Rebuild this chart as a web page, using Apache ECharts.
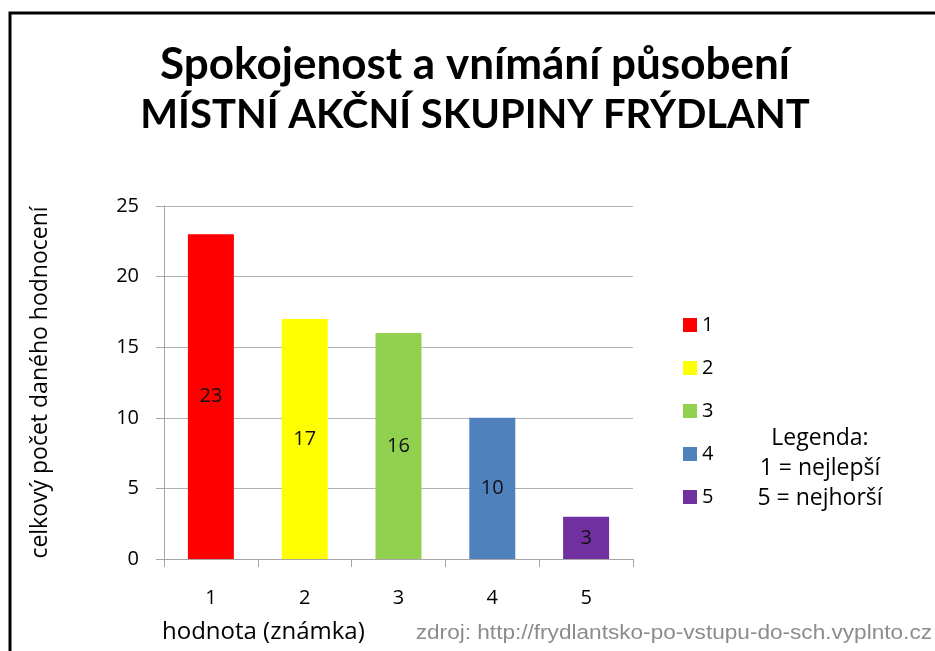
<!DOCTYPE html>
<html>
<head>
<meta charset="utf-8">
<script src="https://cdn.jsdelivr.net/npm/echarts@6/dist/echarts.min.js"></script>
<style>
  html, body { margin: 0; padding: 0; background: #fff; }
  #main { width: 935px; height: 651px; }
</style>
</head>
<body>
<div id="main"></div>
<script>
// data
var categories = ["1", "2", "3", "4", "5"];
var counts = [23, 17, 16, 10, 3];
var seriesNames = ["1", "2", "3", "4", "5"];
var barColors = ["#FF0000", "#FFFF00", "#92D050", "#4F81BD", "#7030A0"];
var yTicks = { min: 0, max: 25, interval: 5 };

var font = "'Open Sans', Lato, sans-serif";
var titleFont = "Lato, 'Open Sans', sans-serif";

var chartDom = document.getElementById("main");
var myChart = echarts.init(chartDom, null, { renderer: "canvas" });

// one series per grade so the legend shows each colour
var series = seriesNames.map(function (name, i) {
  var data = categories.map(function (c, j) {
    return j === i ? counts[j] : "-";
  });
  return {
    name: name,
    type: "bar",
    stack: "all",
    barWidth: 46,
    data: data,
    itemStyle: { color: barColors[i] },
    label: {
      show: true,
      position: "inside",
      color: "#111",
      fontFamily: font,
      fontSize: 20,
    },
  };
});

var option = {
  animation: false,
  backgroundColor: "#fff",
  title: {
    text: "{a|Spokojenost a vnímání působení}\n{b|MÍSTNÍ AKČNÍ SKUPINY FRÝDLANT}",
    left: 470,
    textAlign: "center",
    top: 35,
    textStyle: {
      rich: {
        a: {
          fontFamily: titleFont,
          fontWeight: "bold",
          fontSize: 44,
          lineHeight: 50,
          color: "#000",
        },
        b: {
          fontFamily: titleFont,
          fontWeight: "bold",
          fontSize: 40,
          lineHeight: 50,
          color: "#000",
        },
      },
    },
  },
  legend: {
    orient: "vertical",
    left: 683,
    top: 315,
    padding: 0,
    itemWidth: 14,
    itemHeight: 14,
    itemGap: 23,
    icon: "rect",
    textStyle: { fontFamily: font, fontSize: 20, color: "#000" },
    data: seriesNames,
  },
  grid: { left: 164, right: 302, top: 206, bottom: 92 },
  xAxis: {
    type: "category",
    data: categories,
    axisLine: { lineStyle: { color: "#a6a6a6", width: 1 } },
    axisTick: { show: true, length: 8, lineStyle: { color: "#a6a6a6" } },
    axisLabel: {
      margin: 29,
      fontFamily: font,
      fontSize: 20,
      color: "#000",
    },
  },
  yAxis: {
    type: "value",
    min: yTicks.min,
    max: yTicks.max,
    interval: yTicks.interval,
    name: "celkový počet daného hodnocení",
    nameLocation: "middle",
    nameGap: 112,
    nameTextStyle: { fontFamily: font, fontSize: 23, color: "#000" },
    axisLine: { show: true, lineStyle: { color: "#a6a6a6", width: 1 } },
    axisTick: { show: true, length: 8, lineStyle: { color: "#a6a6a6" } },
    axisLabel: {
      margin: 25,
      fontFamily: font,
      fontSize: 20,
      color: "#000",
    },
    splitLine: { lineStyle: { color: "#b3b3b3", width: 1 } },
  },
  graphic: [
    {
      type: "polyline",
      shape: { points: [[10, 651], [10, 13], [935, 13]] },
      style: { stroke: "#000", lineWidth: 3, fill: null },
    },
    {
      type: "text",
      x: 162,
      y: 632,
      style: {
        text: "hodnota (známka)",
        font: "24px " + font,
        verticalAlign: "middle",
        fill: "#000",
      },
    },
    {
      type: "text",
      x: 820,
      y: 423,
      style: {
        text: "Legenda:\n1 = nejlepší\n5 = nejhorší",
        font: "23px " + font,
        lineHeight: 30,
        align: "center",
        verticalAlign: "top",
        fill: "#000",
      },
    },
    {
      type: "text",
      x: 932,
      y: 633,
      scaleX: 1.13,
      style: {
        text: "zdroj: http://frydlantsko-po-vstupu-do-sch.vyplnto.cz",
        font: "20px 'Liberation Sans', Arial, sans-serif",
        align: "right",
        verticalAlign: "middle",
        fill: "#8c8c8c",
      },
    },
  ],
  series: series,
};

option && myChart.setOption(option);
</script>
</body>
</html>
